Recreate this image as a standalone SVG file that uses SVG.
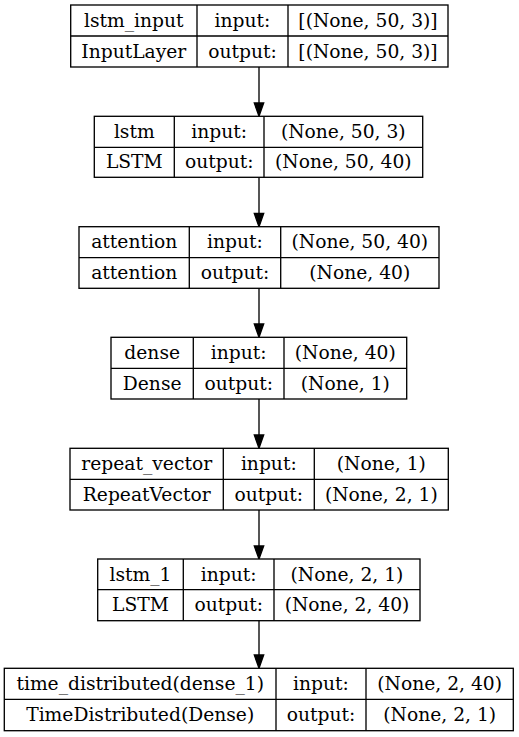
<svg xmlns="http://www.w3.org/2000/svg" width="519" height="737" viewBox="0 0 519 737">
<defs>
<style>
.b{fill:#fff;stroke:#000;stroke-width:1.33}
.l{stroke:#000;stroke-width:1.33;fill:none}
text{font-family:"DejaVu Serif","Liberation Serif",serif;font-size:18.7px;text-anchor:middle;fill:#000}
.e{stroke:#000;stroke-width:1.33;fill:none}
.h{fill:#000;stroke:#000;stroke-width:1.33}
</style>
</defs>
<rect width="519" height="737" fill="#fff"/>
<g id="connectors">
<line class="e" x1="259" y1="67" x2="259" y2="104"/><polygon class="h" points="254.3,103 263.7,103 259,116.3"/>
<line class="e" x1="259" y1="177.3" x2="259" y2="214"/><polygon class="h" points="254.3,213.5 263.7,213.5 259,226.7"/>
<line class="e" x1="259" y1="288.3" x2="259" y2="325"/><polygon class="h" points="254.3,324 263.7,324 259,337.3"/>
<line class="e" x1="259" y1="399" x2="259" y2="436"/><polygon class="h" points="254.3,435 263.7,435 259,448.3"/>
<line class="e" x1="259" y1="510" x2="259" y2="547"/><polygon class="h" points="254.3,546 263.7,546 259,559"/>
<line class="e" x1="259" y1="620.7" x2="259" y2="656"/><polygon class="h" points="254.3,655 263.7,655 259,668.3"/>
</g>
<g id="lstm_input">
<rect class="b" x="70.7" y="5" width="377.3" height="62"/>
<line class="l" x1="70.7" y1="36" x2="448" y2="36"/>
<line class="l" x1="197" y1="5" x2="197" y2="67"/>
<line class="l" x1="288" y1="5" x2="288" y2="67"/>
<text x="133.8" y="26.5">lstm_input</text><text x="242.5" y="26.5">input:</text><text x="368" y="26.5">[(None, 50, 3)]</text>
<text x="133.8" y="57.5">InputLayer</text><text x="242.5" y="57.5">output:</text><text x="368" y="57.5">[(None, 50, 3)]</text>
</g>
<g id="lstm">
<rect class="b" x="94.3" y="116.3" width="328.4" height="61"/>
<line class="l" x1="94.3" y1="147.3" x2="422.7" y2="147.3"/>
<line class="l" x1="174.3" y1="116.3" x2="174.3" y2="177.3"/>
<line class="l" x1="264" y1="116.3" x2="264" y2="177.3"/>
<text x="134.3" y="137.8">lstm</text><text x="219.2" y="137.8">input:</text><text x="343.3" y="137.8">(None, 50, 3)</text>
<text x="134.3" y="168.3">LSTM</text><text x="219.2" y="168.3">output:</text><text x="343.3" y="168.3">(None, 50, 40)</text>
</g>
<g id="attention">
<rect class="b" x="79" y="226.7" width="360" height="61.6"/>
<line class="l" x1="79" y1="257.7" x2="439" y2="257.7"/>
<line class="l" x1="189.3" y1="226.7" x2="189.3" y2="288.3"/>
<line class="l" x1="280.7" y1="226.7" x2="280.7" y2="288.3"/>
<text x="134.2" y="248.2">attention</text><text x="235" y="248.2">input:</text><text x="359.8" y="248.2">(None, 50, 40)</text>
<text x="134.2" y="279">attention</text><text x="235" y="279">output:</text><text x="359.8" y="279">(None, 40)</text>
</g>
<g id="dense">
<rect class="b" x="111" y="337.3" width="295.7" height="61.7"/>
<line class="l" x1="111" y1="368.3" x2="406.7" y2="368.3"/>
<line class="l" x1="193.3" y1="337.3" x2="193.3" y2="399"/>
<line class="l" x1="284" y1="337.3" x2="284" y2="399"/>
<text x="152.2" y="358.8">dense</text><text x="238.7" y="358.8">input:</text><text x="345.3" y="358.8">(None, 40)</text>
<text x="152.2" y="389.7">Dense</text><text x="238.7" y="389.7">output:</text><text x="345.3" y="389.7">(None, 1)</text>
</g>
<g id="repeat_vector">
<rect class="b" x="70" y="448.3" width="378.3" height="61.7"/>
<line class="l" x1="70" y1="479.3" x2="448.3" y2="479.3"/>
<line class="l" x1="223.3" y1="448.3" x2="223.3" y2="510"/>
<line class="l" x1="314.3" y1="448.3" x2="314.3" y2="510"/>
<text x="146.7" y="469.8">repeat_vector</text><text x="268.8" y="469.8">input:</text><text x="381.3" y="469.8">(None, 1)</text>
<text x="146.7" y="500.7">RepeatVector</text><text x="268.8" y="500.7">output:</text><text x="381.3" y="500.7">(None, 2, 1)</text>
</g>
<g id="lstm_1">
<rect class="b" x="97.7" y="559" width="322.3" height="61.7"/>
<line class="l" x1="97.7" y1="589.7" x2="420" y2="589.7"/>
<line class="l" x1="183.3" y1="559" x2="183.3" y2="620.7"/>
<line class="l" x1="274" y1="559" x2="274" y2="620.7"/>
<text x="140.5" y="580.5">lstm_1</text><text x="228.7" y="580.5">input:</text><text x="347" y="580.5">(None, 2, 1)</text>
<text x="140.5" y="611.3">LSTM</text><text x="228.7" y="611.3">output:</text><text x="347" y="611.3">(None, 2, 40)</text>
</g>
<g id="time_distributed">
<rect class="b" x="4.3" y="668.3" width="509" height="62.4"/>
<line class="l" x1="4.3" y1="699.3" x2="513.3" y2="699.3"/>
<line class="l" x1="276" y1="668.3" x2="276" y2="730.7"/>
<line class="l" x1="366" y1="668.3" x2="366" y2="730.7"/>
<text x="140.2" y="689.8">time_distributed(dense_1)</text><text x="321" y="689.8">input:</text><text x="439.7" y="689.8">(None, 2, 40)</text>
<text x="140.2" y="721">TimeDistributed(Dense)</text><text x="321" y="721">output:</text><text x="439.7" y="721">(None, 2, 1)</text>
</g>
</svg>
